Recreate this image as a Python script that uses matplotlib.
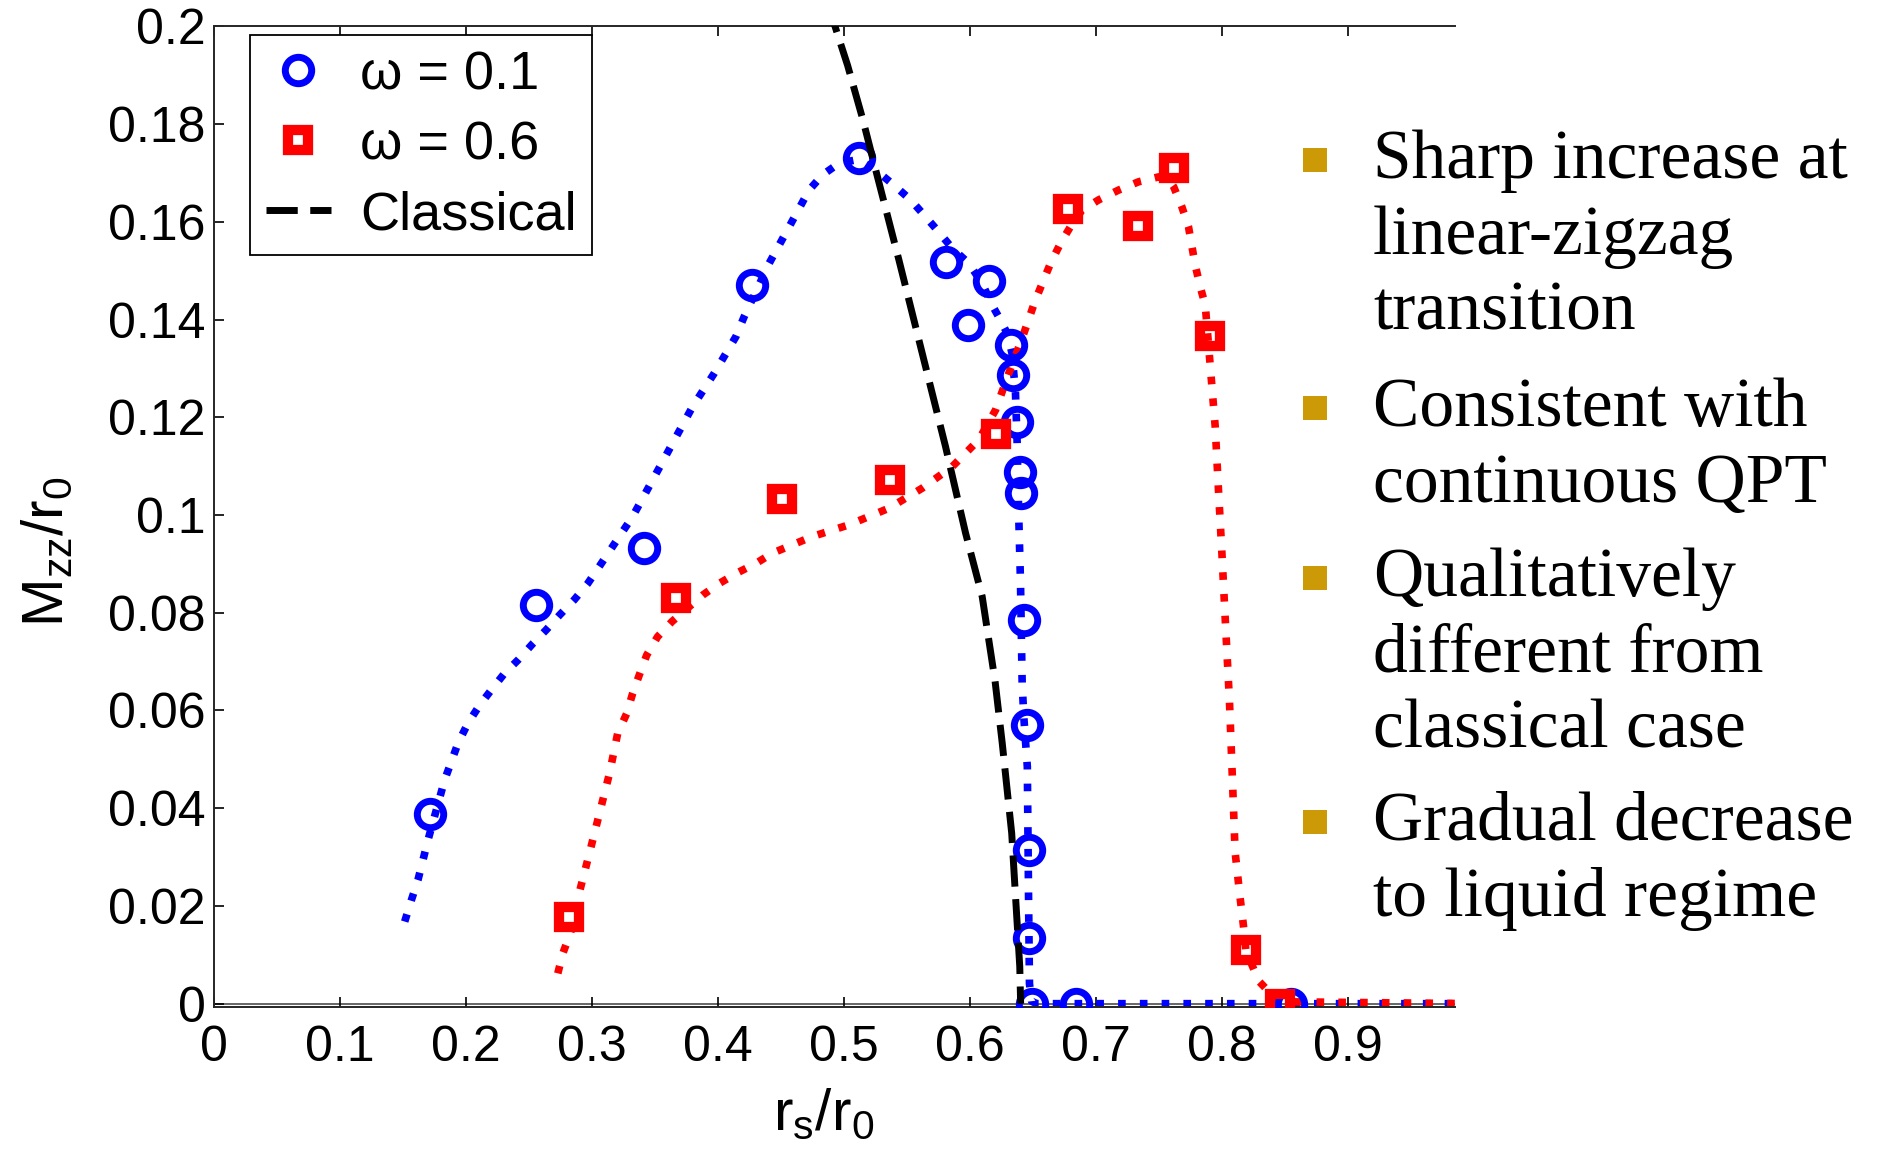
import matplotlib
matplotlib.use('Agg')
import matplotlib.pyplot as plt
from matplotlib.patches import Rectangle

plt.rcParams['font.family'] = ['Liberation Sans', 'DejaVu Sans']
plt.rcParams['mathtext.fontset'] = 'custom'
plt.rcParams['mathtext.rm'] = 'Liberation Sans'
plt.rcParams['mathtext.it'] = 'Liberation Sans:italic'

# ---------------- data ----------------
blue_x = [0.1713, 0.2559, 0.3417, 0.4275, 0.5120, 0.5807, 0.5983, 0.6150, 0.6328, 0.6345,
          0.6375, 0.6394, 0.6406, 0.6428, 0.6450, 0.6466, 0.6473, 0.6490, 0.6840, 0.8550]
blue_y = [0.0389, 0.0816, 0.0932, 0.1470, 0.1730, 0.1517, 0.1389, 0.1478, 0.1347, 0.1286,
          0.1191, 0.1089, 0.1046, 0.0785, 0.0570, 0.0314, 0.0134, 0.0, 0.0, 0.0]

red_x = [0.2817, 0.3670, 0.4513, 0.5370, 0.6209, 0.6775, 0.7334, 0.7622, 0.7907, 0.8190, 0.8460]
red_y = [0.0178, 0.0830, 0.1033, 0.1072, 0.1165, 0.1626, 0.1592, 0.1711, 0.1366, 0.0110, 0.0]

blue_fit_x = [0.1515, 0.1568, 0.1620, 0.1660, 0.1700, 0.1832, 0.1938, 0.2017, 0.2110, 0.2202,
              0.2307, 0.2413, 0.2532, 0.2638, 0.2743, 0.2862, 0.2968, 0.3060, 0.3324, 0.3483,
              0.3641, 0.3800, 0.3971, 0.4143, 0.4209, 0.4407, 0.4566, 0.4724, 0.4830, 0.4962,
              0.5120, 0.5253, 0.5398, 0.5530, 0.5636, 0.5741, 0.5860, 0.5992, 0.6098, 0.6176,
              0.6230, 0.6300, 0.6335, 0.6362, 0.6375, 0.6388, 0.6402, 0.6415, 0.6428, 0.6456,
              0.6466, 0.6473, 0.6490, 0.6530, 1.0000]
blue_fit_y = [0.0168, 0.0212, 0.0253, 0.0294, 0.0335, 0.0458, 0.0533, 0.0574, 0.0611, 0.0642,
              0.0676, 0.0703, 0.0737, 0.0765, 0.0795, 0.0827, 0.0860, 0.0895, 0.0997, 0.1072,
              0.1147, 0.1222, 0.1290, 0.1365, 0.1406, 0.1515, 0.1590, 0.1665, 0.1696, 0.1720,
              0.1728, 0.1706, 0.1675, 0.1645, 0.1614, 0.1583, 0.1546, 0.1515, 0.1474, 0.1430,
              0.1405, 0.1370, 0.1330, 0.1250, 0.1150, 0.0997, 0.0860, 0.0656, 0.0587, 0.0485,
              0.0212, 0.0041, 0.0005, 0.0, 0.0]

red_fit_x = [0.2730, 0.2770, 0.2833, 0.2902, 0.2981, 0.3060, 0.3140, 0.3205, 0.3277, 0.3324,
             0.3377, 0.3435, 0.3522, 0.3636, 0.3879, 0.4011, 0.4156, 0.4302, 0.4433, 0.4750,
             0.5041, 0.5358, 0.5622, 0.5860, 0.6071, 0.6204, 0.6309, 0.6415, 0.6520, 0.6640,
             0.6719, 0.6798, 0.6890, 0.7022, 0.7180, 0.7339, 0.7498, 0.7578, 0.7617, 0.7682,
             0.7735, 0.7788, 0.7828, 0.7868, 0.7907, 0.7947, 0.7973, 0.7999, 0.8026, 0.8060,
             0.8085, 0.8105, 0.8145, 0.8171, 0.8190, 0.8290, 0.8448, 1.0000]
red_fit_y = [0.0062, 0.0103, 0.0147, 0.0229, 0.0308, 0.0389, 0.0471, 0.0553, 0.0594, 0.0635,
             0.0673, 0.0713, 0.0751, 0.0782, 0.0836, 0.0860, 0.0882, 0.0901, 0.0922, 0.0956,
             0.0980, 0.1014, 0.1055, 0.1099, 0.1154, 0.1215, 0.1290, 0.1362, 0.1440, 0.1515,
             0.1556, 0.1590, 0.1624, 0.1645, 0.1665, 0.1682, 0.1692, 0.1686, 0.1672, 0.1631,
             0.1590, 0.1512, 0.1467, 0.1430, 0.1307, 0.1181, 0.1051, 0.0928, 0.0790, 0.0620,
             0.0450, 0.0310, 0.0216, 0.0160, 0.0110, 0.0047, 0.0004, 0.0]

classical_x = [0.4880, 0.4930, 0.5030, 0.5150, 0.5253, 0.5437, 0.5622, 0.5807, 0.5966, 0.6098,
               0.6200, 0.6257, 0.6332, 0.6396, 0.6403]
classical_y = [0.2050, 0.2000, 0.1920, 0.1810, 0.1706, 0.1522, 0.1331, 0.1140, 0.0963, 0.0833,
               0.0660, 0.0533, 0.0349, 0.0076, 0.0]

series_labels = ['ω = 0.1', 'ω = 0.6', 'Classical']

x_ticks = [0, 0.1, 0.2, 0.3, 0.4, 0.5, 0.6, 0.7, 0.8, 0.9]
x_tick_labels = ['0', '0.1', '0.2', '0.3', '0.4', '0.5', '0.6', '0.7', '0.8', '0.9']
y_ticks = [0, 0.02, 0.04, 0.06, 0.08, 0.1, 0.12, 0.14, 0.16, 0.18, 0.2]
y_tick_labels = ['0', '0.02', '0.04', '0.06', '0.08', '0.1', '0.12', '0.14', '0.16', '0.18', '0.2']

bullet_items = [["Sharp increase at", "linear-zigzag", "transition"],
                ["Consistent with", "continuous QPT"],
                ["Qualitatively", "different from", "classical case"],
                ["Gradual decrease", "to liquid regime"]]

# ---------------- figure ----------------
W, H = 1880, 1149
fig = plt.figure(figsize=(W / 100, H / 100), dpi=100)
ax_l, ax_r, ax_t, ax_b = 213.8, 1455.0, 26.4, 1006.6
ax = fig.add_axes([ax_l / W, 1 - ax_b / H, (ax_r - ax_l) / W, (ax_b - ax_t) / H])

BLUE = '#0000ff'
RED = '#ff0000'
dot = (0, (1.0, 1.85))

ax.axhline(0, color='0.3', lw=1.2, zorder=1)
ax.plot(blue_fit_x, blue_fit_y, color=BLUE, lw=5.5, ls=dot, zorder=2)
ax.plot(red_fit_x, red_fit_y, color=RED, lw=5.5, ls=dot, zorder=2)
ax.plot(blue_x, blue_y, ls='none', marker='o', ms=19, mew=5.0, mec=BLUE, mfc='none',
        label=series_labels[0], zorder=3)
ax.plot(red_x, red_y, ls='none', marker='s', ms=14.7, mew=7.4, mec=RED, mfc='none',
        label=series_labels[1], zorder=3)
ax.plot(classical_x, classical_y, color='black', lw=5.0, ls=(0, (4.5, 1.8)),
        label=series_labels[2], zorder=4)

ax.set_xlim(0, 0.985)
ax.set_ylim(-0.0006, 0.2)
ax.set_xticks(x_ticks, labels=x_tick_labels)
ax.set_yticks(y_ticks, labels=y_tick_labels)
ax.tick_params(axis='both', direction='in', length=7, width=1.2, labelsize=36, colors='black')
ax.tick_params(axis='x', top=True, pad=13)
ax.tick_params(axis='y', right=False, pad=6)
ax.spines['right'].set_visible(False)
for s in ['left', 'top', 'bottom']:
    ax.spines[s].set_linewidth(1.4)
    ax.spines[s].set_color('0.15')

ax.set_xlabel(r'$\mathrm{r_s/r_0}$', fontsize=42)
ax.xaxis.set_label_coords((824 - ax_l) / (ax_r - ax_l), -(1115 - ax_b) / (ax_b - ax_t))
ax.xaxis.label.set_va('center')
ax.set_ylabel(r'$\mathrm{M_{zz}/r_0}$', fontsize=42)
ax.yaxis.set_label_coords((48 - ax_l) / (ax_r - ax_l), (ax_b - 552) / (ax_b - ax_t))
ax.yaxis.label.set_va('center')

leg = ax.legend(loc='upper left', bbox_to_anchor=((250.4 - ax_l) / (ax_r - ax_l), 1 - (35 - ax_t) / (ax_b - ax_t)),
                borderaxespad=0, fontsize=39, numpoints=1, handlelength=1.2, handletextpad=0.55,
                labelspacing=0.37, borderpad=0.28, fancybox=False, framealpha=1, edgecolor='black')
leg.get_frame().set_linewidth(1.3)

# ---------------- bullet list ----------------
GOLD = '#CC9A06'
first_baselines = [178, 426, 596, 840]
line_step = 76
for item, b0 in zip(bullet_items, first_baselines):
    cy = b0 - 18
    fig.add_artist(Rectangle(((1302.7) / W, 1 - (cy + 12) / H), 24 / W, 24 / H,
                             transform=fig.transFigure, color=GOLD, lw=0))
    for i, line in enumerate(item):
        fig.text(1373 / W, 1 - (b0 + i * line_step) / H, line, fontsize=50,
                 family=['Liberation Serif', 'DejaVu Serif'], ha='left', va='baseline', color='black')

fig.savefig('out.png', dpi=100)
